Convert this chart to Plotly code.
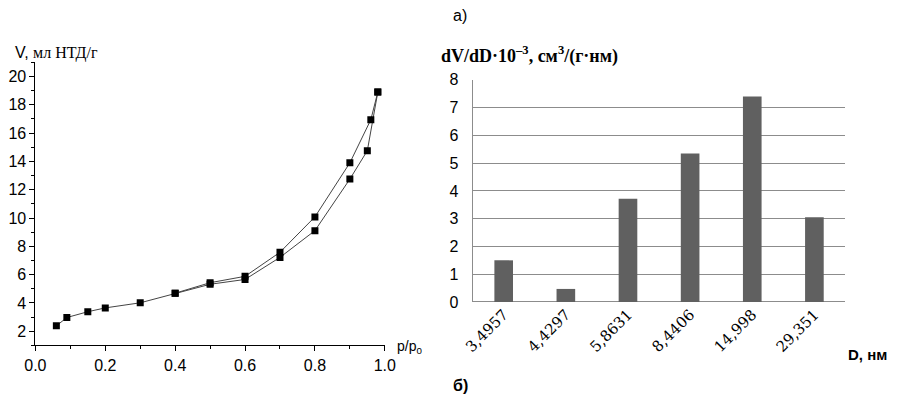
import plotly.graph_objects as go

# а) isotherm: adsorption / desorption branches
ads_p = [0.06, 0.09, 0.15, 0.2, 0.3, 0.4, 0.5, 0.6, 0.7, 0.8, 0.9, 0.95, 0.98]
ads_v = [2.38, 2.97, 3.38, 3.65, 4.01, 4.69, 5.32, 5.66, 7.22, 9.11, 12.75, 14.76, 18.9]
des_p = [0.98, 0.96, 0.9, 0.8, 0.7, 0.6, 0.5, 0.4]
des_v = [18.9, 16.95, 13.9, 10.08, 7.58, 5.88, 5.43, 4.69]

# б) pore size distribution
pore_d = ["3,4957", "4,4297", "5,8631", "8,4406", "14,998", "29,351"]
dv_dd = [1.5, 0.47, 3.72, 5.35, 7.4, 3.05]

W, H = 916, 410
sans = "Liberation Sans, Arial, sans-serif"
serif = "Liberation Serif, Times New Roman, serif"

fig = go.Figure()

for px_, py_ in [(ads_p, ads_v), (des_p, des_v)]:
    fig.add_trace(go.Scatter(
        x=px_, y=py_, mode="lines+markers",
        line=dict(color="#444444", width=1),
        marker=dict(symbol="square", size=7, color="black"),
        xaxis="x", yaxis="y", showlegend=False,
    ))

fig.add_trace(go.Bar(
    x=pore_d, y=dv_dd, marker=dict(color="#606060", line=dict(width=0)),
    xaxis="x2", yaxis="y2", showlegend=False,
))


def label(text, x, y, size, family=sans):
    return dict(text=text, x=x / W, y=(H - y) / H, xref="paper", yref="paper",
                xanchor="left", yanchor="middle", showarrow=False,
                font=dict(family=family, size=size, color="black"))


fig.update_layout(
    width=W, height=H,
    margin=dict(l=0, r=0, t=0, b=0),
    paper_bgcolor="white", plot_bgcolor="white",
    bargap=0.7,
    xaxis=dict(
        domain=[25 / W, 383 / W], range=[0, 1.0],
        dtick=0.2, tickformat=".1f",
        showline=True, linecolor="black", linewidth=1,
        ticks="outside", ticklen=5, tickcolor="black",
        minor=dict(dtick=0.1, ticks="outside", ticklen=3, tickcolor="black"),
        showgrid=False, zeroline=False,
        tickfont=dict(family=sans, size=16, color="black"),
    ),
    yaxis=dict(
        domain=[(H - 352) / H, (H - 56.7) / H], range=[1, 21],
        tickvals=list(range(2, 21, 2)),
        showline=True, linecolor="black", linewidth=1,
        ticks="outside", ticklen=5, tickcolor="black",
        minor=dict(dtick=1, ticks="outside", ticklen=3, tickcolor="black"),
        showgrid=False, zeroline=False,
        tickfont=dict(family=sans, size=16, color="black"),
    ),
    xaxis2=dict(
        domain=[473 / W, 855 / W], anchor="y2",
        tickangle=-45, ticks="", showline=False,
        tickfont=dict(family="DejaVu Serif, serif", size=15, color="black"),
    ),
    yaxis2=dict(
        domain=[(H - 306.7) / H, (H - 75) / H], anchor="x2",
        range=[0, 8], dtick=1,
        showgrid=True, gridcolor="#8c8c8c", gridwidth=1,
        zeroline=True, zerolinecolor="#8c8c8c", zerolinewidth=1,
        showline=True, linecolor="#8c8c8c", linewidth=1,
        ticks="", ticklabelstandoff=10,
        tickfont=dict(family=sans, size=16, color="black"),
    ),
    annotations=[
        label("V, <span style='font-family:Liberation Serif'>мл НТД/г</span>", 2, 47, 16),
        label("p/p<sub>0</sub>", 393, 354, 14),
        label("а)", 451, 8, 16),
        label("<b>dV/dD·10<sup>–3</sup>, см<sup>3</sup>/(г·нм)</b>", 439, 49, 18, serif),
        label("<b>D, нм</b>", 856, 361, 15),
        label("<b>б)</b>", 451, 394, 16),
    ],
)

fig.write_html(
    "out.html",
    config={"displayModeBar": False},
    post_script="document.body.style.margin='0';",
)
